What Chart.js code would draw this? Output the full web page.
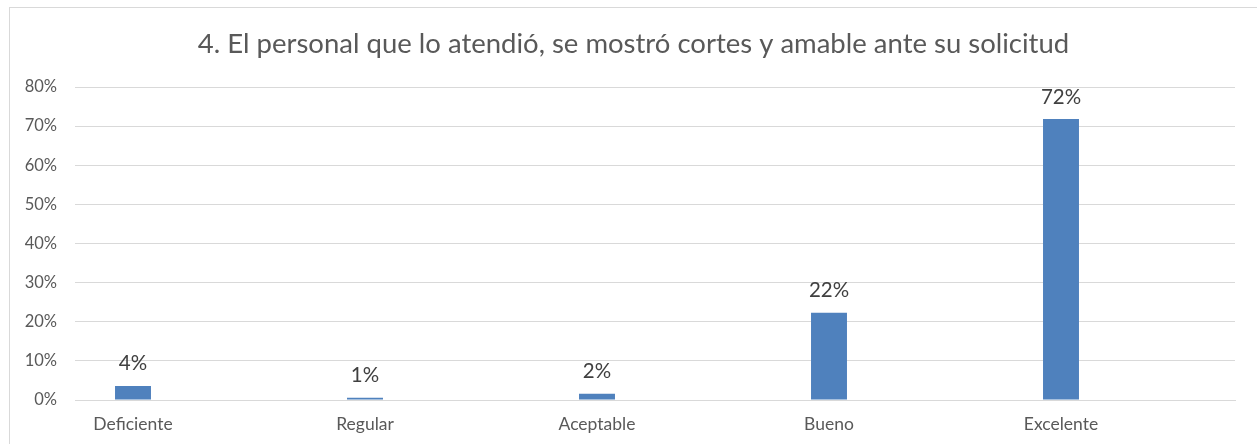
<!DOCTYPE html>
<html>
<head>
<meta charset="utf-8">
<script src="https://cdn.jsdelivr.net/npm/chart.js@4.4.0/dist/chart.umd.min.js"></script>
<style>
  html, body { margin: 0; padding: 0; background: #ffffff; overflow: hidden; }
  #wrap { position: relative; width: 1257px; height: 444px; }
  #frame { position: absolute; left: 9px; top: 7px; width: 1300px; height: 500px; border: 1px solid #d9d9d9; box-sizing: border-box; }
  #c { position: absolute; left: 0; top: 0; }
</style>
</head>
<body>
<div id="wrap">
  <div id="frame"></div>
  <canvas id="c" width="1257" height="444"></canvas>
</div>
<script>
const titleText = "4. El personal que lo atendió, se mostró cortes y amable ante su solicitud";
const categories = ["Deficiente", "Regular", "Aceptable", "Bueno", "Excelente"];
const values = [3.6, 0.6, 1.6, 22.3, 71.8];
const valueLabels = ["4%", "1%", "2%", "22%", "72%"];
const emptySeries = [null, null, null, null, null];
const yTicks = [0, 10, 20, 30, 40, 50, 60, 70, 80];

const FONT = "Lato, 'Open Sans', sans-serif";
const TXT = "#595959";

const dataLabelPlugin = {
  id: 'dataLabels',
  afterDatasetsDraw(chart) {
    const ctx = chart.ctx;
    const meta = chart.getDatasetMeta(0);
    ctx.save();
    ctx.fillStyle = "#404040";
    ctx.font = "20.5px " + FONT;
    ctx.textAlign = "center";
    ctx.textBaseline = "alphabetic";
    meta.data.forEach((bar, i) => {
      ctx.fillText(valueLabels[i], bar.x, bar.y - 15.5);
    });
    ctx.restore();
  }
};

new Chart(document.getElementById('c'), {
  type: 'bar',
  data: {
    labels: categories,
    datasets: [
      { label: "Serie 1", data: values, backgroundColor: "#4F81BD", borderWidth: 0 },
      { label: "", data: emptySeries, backgroundColor: "#C0504D", borderWidth: 0 }
    ]
  },
  options: {
    responsive: false,
    animation: false,
    devicePixelRatio: 1,
    layout: { padding: { left: 32, right: 22, top: 0, bottom: 0 } },
    datasets: { bar: { categoryPercentage: 1.0, barPercentage: 0.31 } },
    plugins: {
      legend: { display: false },
      tooltip: { enabled: false },
      title: {
        display: true,
        text: titleText,
        color: TXT,
        font: { family: FONT, size: 27.5, weight: 'normal', lineHeight: 1.2 },
        padding: { top: 27.5, bottom: 26.5 }
      }
    },
    scales: {
      x: {
        type: 'category',
        offset: true,
        grid: { display: false, drawTicks: false },
        border: { display: true, color: "#d9d9d9", width: 1 },
        ticks: {
          color: TXT,
          font: { family: FONT, size: 17.5 },
          padding: 14,
          labelOffset: -58,
          maxRotation: 0,
          autoSkip: false
        },
        afterFit(s) { s.height = 44; }
      },
      y: {
        min: 0,
        max: 80,
        afterBuildTicks(s) { s.ticks = yTicks.map(v => ({ value: v })); },
        grid: { color: "#d9d9d9", lineWidth: 1, drawTicks: false },
        border: { display: false },
        ticks: {
          color: TXT,
          font: { family: FONT, size: 16.5 },
          padding: 18,
          callback: (v) => v + "%"
        },
        afterFit(s) { s.width = 43; },
        afterUpdate(s) { s._computeLabelArea = function () { return undefined; }; }
      }
    }
  },
  plugins: [dataLabelPlugin]
});
</script>
</body>
</html>
